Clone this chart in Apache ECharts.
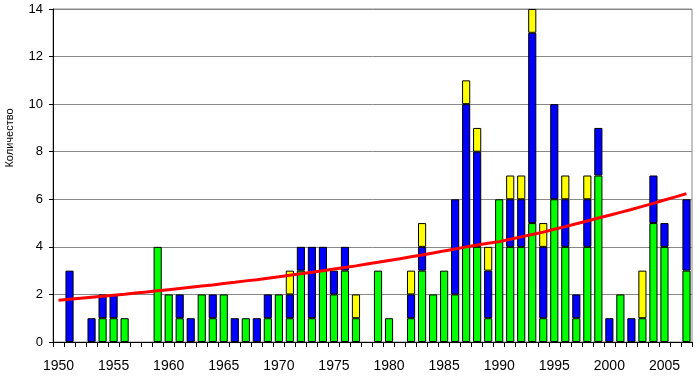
<!DOCTYPE html>
<html><head><meta charset="utf-8">
<script src="https://cdn.jsdelivr.net/npm/echarts@6/dist/echarts.min.js"></script>
<style>html,body{margin:0;padding:0;background:#fff}#c{width:700px;height:381px}</style>
</head><body><div id="c"></div>
<script>
const years = [];
for (let y = 1950; y <= 2007; y++) years.push(String(y));
const green = [0,0,0,0,1,1,1,0,0,4, 2,1,0,2,1,2,0,1,0,1, 2,1,3,1,3,2,3,1,0,3, 1,0,1,3,2,3,2,4,4,1, 6,4,4,5,1,6,4,1,4,7, 0,2,0,1,5,4,0,3];
const blue  = [0,3,0,1,1,1,0,0,0,0, 0,1,1,0,1,0,1,0,1,1, 0,1,1,3,1,1,1,0,0,0, 0,0,1,1,0,0,4,6,4,2, 0,2,2,8,3,4,2,1,2,2, 1,0,1,0,2,1,0,3];
const yellow= [0,0,0,0,0,0,0,0,0,0, 0,0,0,0,0,0,0,0,0,0, 0,1,0,0,0,0,0,1,0,0, 0,0,1,1,0,0,0,1,1,1, 0,1,1,1,1,0,1,0,1,0, 0,0,0,2,0,0,0,0];
const trend = [1.76,1.80,1.84,1.88,1.92,1.97,2.01,2.06,2.10,2.15, 2.20,2.25,2.30,2.35,2.40,2.46,2.51,2.57,2.62,2.68, 2.74,2.81,2.87,2.93,3.00,3.07,3.13,3.20,3.28,3.35, 3.43,3.50,3.58,3.66,3.74,3.83,3.91,4.00,4.08,4.15, 4.22,4.32,4.42,4.52,4.62,4.74,4.85,4.97,5.09,5.21, 5.33,5.45,5.57,5.70,5.83,5.97,6.10,6.24];
const yTicks = [0,2,4,6,8,10,12,14];
const yName = 'Количество';

const toData = a => a.map(v => v === 0 ? '-' : v);
const barStyle = c => ({color: c, borderColor: '#000', borderWidth: 1});
const font = 'Liberation Sans, Arial, sans-serif';
const chart = echarts.init(document.getElementById('c'), null, {renderer: 'canvas'});
chart.setOption({
  animation: false,
  backgroundColor: '#fff',
  grid: {left: 53, right: 8, top: 9, bottom: 39, show: true, borderColor: '#888', borderWidth: 1},
  graphic: [{
    type: 'text', x: 10, y: 138, rotation: Math.PI / 2,
    style: {text: yName, fill: '#000', font: '11px ' + font, textAlign: 'center', textVerticalAlign: 'middle'}
  }],
  xAxis: {
    type: 'category', data: years, boundaryGap: true,
    axisLine: {lineStyle: {color: '#000', width: 1}},
    axisTick: {show: true, interval: 0, length: 5, lineStyle: {color: '#000'}},
    axisLabel: {interval: 4, color: '#000', fontFamily: font, fontSize: 14, margin: 17},
    splitLine: {show: false}
  },
  yAxis: {
    type: 'value', min: yTicks[0], max: yTicks[yTicks.length-1], interval: 2,
    axisLine: {show: true, lineStyle: {color: '#000', width: 1}},
    axisTick: {show: true, length: 4, lineStyle: {color: '#000'}},
    axisLabel: {color: '#000', fontFamily: font, fontSize: 13, margin: 10},
    splitLine: {show: true, lineStyle: {color: '#888', width: 1}}
  },
  series: [
    {type: 'bar', stack: 's', data: toData(green), itemStyle: barStyle('#00ff00'), barCategoryGap: '26%'},
    {type: 'bar', stack: 's', data: toData(blue), itemStyle: barStyle('#0000ff')},
    {type: 'bar', stack: 's', data: toData(yellow), itemStyle: barStyle('#ffff00')},
    {type: 'line', data: trend, symbol: 'none', lineStyle: {color: '#ff0000', width: 3}, z: 5}
  ]
});
</script></body></html>
